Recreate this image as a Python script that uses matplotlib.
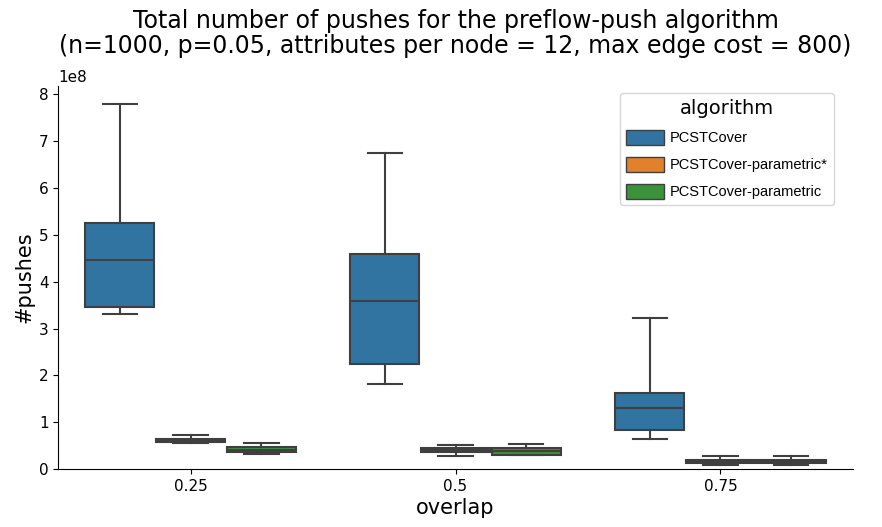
import matplotlib
matplotlib.use("Agg")
import matplotlib.pyplot as plt
from matplotlib.patches import Patch

# values, in units of 1e8 pushes
overlaps = ["0.25", "0.5", "0.75"]
algorithms = ["PCSTCover", "PCSTCover-parametric*", "PCSTCover-parametric"]
colors = ["#3274a1", "#e1812c", "#3a923a"]

# per algorithm, per overlap: [whislo, q1, med, q3, whishi]
pcst = [[3.31, 3.45, 4.47, 5.25, 7.80],
        [1.82, 2.25, 3.58, 4.60, 6.75],
        [0.65, 0.83, 1.30, 1.63, 3.23]]
param_star = [[0.55, 0.58, 0.61, 0.64, 0.73],
              [0.28, 0.36, 0.40, 0.44, 0.52],
              [0.09, 0.12, 0.16, 0.19, 0.28]]
param = [[0.33, 0.36, 0.41, 0.47, 0.55],
         [0.29, 0.31, 0.38, 0.44, 0.53],
         [0.09, 0.12, 0.16, 0.19, 0.28]]
series = [pcst, param_star, param]

fig = plt.figure(figsize=(8.82, 5.27), dpi=100)
ax = fig.add_axes([0.066, 0.110, 0.901, 0.727])

edge = "#3f3f3f"
offsets = [-0.267, 0.0, 0.267]
for k, data in enumerate(series):
    stats = []
    for vals in data:
        lo, q1, med, q3, hi = [v * 1e8 for v in vals]
        stats.append(dict(whislo=lo, q1=q1, med=med, q3=q3, whishi=hi, fliers=[]))
    pos = [i + offsets[k] for i in range(len(overlaps))]
    ax.bxp(stats, positions=pos, widths=0.26, capwidths=0.13, patch_artist=True,
           showfliers=False,
           boxprops=dict(facecolor=colors[k], edgecolor=edge, linewidth=1.5),
           medianprops=dict(color=edge, linewidth=1.5),
           whiskerprops=dict(color=edge, linewidth=1.5),
           capprops=dict(color=edge, linewidth=1.5))

ax.set_xlim(-0.5, 2.5)
ax.set_ylim(0, 8.18e8)
ax.set_xticks(range(len(overlaps)))
ax.set_xticklabels(overlaps)
ax.tick_params(labelsize=11)
ax.yaxis.get_offset_text().set_fontsize(11)
ax.spines["top"].set_visible(False)
ax.spines["right"].set_visible(False)

ax.set_xlabel("overlap", fontsize=15, labelpad=3)
ax.set_ylabel("#pushes", fontsize=15, labelpad=3)
ax.set_title("Total number of pushes for the preflow-push algorithm\n"
             "(n=1000, p=0.05, attributes per node = 12, max edge cost = 800)",
             fontsize=17, pad=12, linespacing=1.05)

handles = [Patch(facecolor=c, edgecolor=edge, label=a) for c, a in zip(colors, algorithms)]
leg = ax.legend(handles=handles, title="algorithm", loc="upper right",
                prop={"family": "Liberation Sans", "size": 10.5},
                title_fontsize=14, bbox_to_anchor=(0.985, 1.0),
                handlelength=2.6, handleheight=1.2, labelspacing=0.8,
                handletextpad=0.4)

fig.savefig("out.png", dpi=100)
